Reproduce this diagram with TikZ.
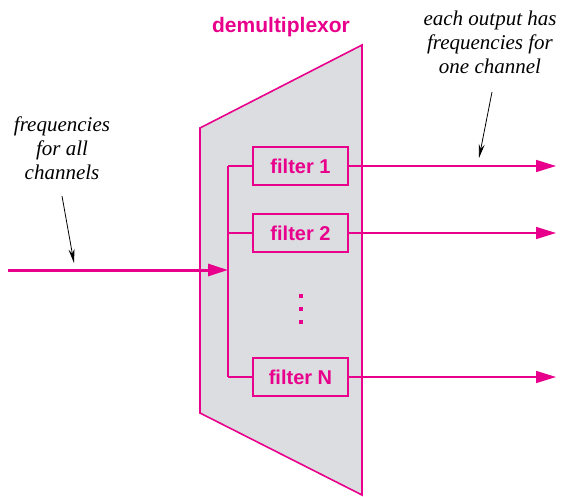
\documentclass[tikz,border=0pt]{standalone}
\usepackage{fontspec}
\setmainfont{Liberation Serif}
\setsansfont{Liberation Sans}
\usetikzlibrary{arrows.meta,calc}
\definecolor{demuxpink}{RGB}{232,0,140}
\definecolor{demuxgray}{RGB}{220,221,224}
\tikzset{
  pinkline/.style={draw=demuxpink,line width=1.6pt},
  filterbox/.style={pinkline,minimum width=95pt,minimum height=38pt,inner sep=0pt,
    text=demuxpink,font=\sffamily\bfseries\fontsize{20}{23}\selectfont},
  note/.style={align=center,font=\itshape\fontsize{21}{24}\selectfont},
  bigtip/.style={-{Triangle[length=20pt,width=12pt]}},
  notetip/.style={-{Stealth[length=14pt,width=6pt]},line width=0.8pt}
}
\begin{document}
\begin{tikzpicture}[x=1pt,y=-1pt]
        \useasboundingbox (0,0) rectangle (562,497);
        % the demultiplexor body
        \coordinate (TL) at (200,128);
        \coordinate (TR) at (362,45);
        \coordinate (BR) at (362,495);
        \coordinate (BL) at (200,413);
        \filldraw [pinkline,fill=demuxgray] (TL) -- (TR) -- (BR) -- (BL) -- cycle;
        \node [text=demuxpink,font=\sffamily\bfseries\fontsize{21}{24}\selectfont] (title) at (281,27) {demultiplexor};
        % filters
        \node (filterA) [filterbox,fill=demuxgray] at (300.5,166) {filter 1};
        \node (filterB) [filterbox,fill=demuxgray] at (300.5,233) {filter 2};
        \node (filterN) [filterbox,fill=demuxgray] at (300.5,377) {filter N};
        \foreach \y in {296,309,322}
          \fill [demuxpink] (299,\y-2) rectangle (303,\y+2);
        % bus
        \coordinate (busA) at (228,166);
        \coordinate (busB) at (228,233);
        \coordinate (busIn) at (228,270);
        \coordinate (busN) at (228,377);
        \draw [pinkline] (busA) -- (busN);
        \draw [pinkline] (busA) -- (filterA.west);
        \draw [pinkline] (busB) -- (filterB.west);
        \draw [pinkline] (busN) -- (filterN.west);
        % input
        \coordinate (in) at (8,270);
        \draw [pinkline,line width=3pt,bigtip] (in) -- (busIn);
        % outputs
        \coordinate (outA) at (556,166);
        \coordinate (outB) at (556,233);
        \coordinate (outN) at (556,377);
        \draw [pinkline,bigtip] (filterA.east) -- (outA);
        \draw [pinkline,bigtip] (filterB.east) -- (outB);
        \draw [pinkline,bigtip] (filterN.east) -- (outN);
        % notes
        \node (inNote) [note] at (62,148) {frequencies\\for all\\channels};
        \node (outNote) [note] at (490,42) {each output has\\frequencies for\\one channel};
        \coordinate (inTip) at (74,263);
        \coordinate (outTip) at (479,158);
        \draw [notetip] (62,196) -- (inTip);
        \draw [notetip] (492,92) -- (outTip);
\end{tikzpicture}
\end{document}
